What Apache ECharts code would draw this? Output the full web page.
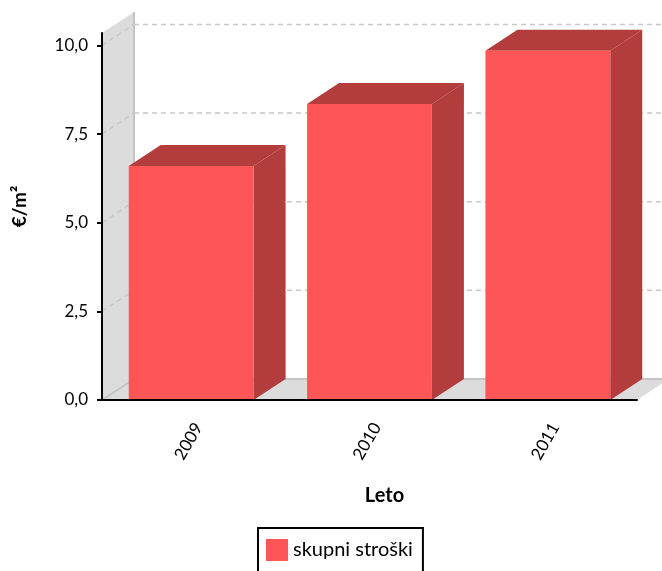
<!DOCTYPE html>
<html>
<head>
<meta charset="utf-8">
<script src="https://cdn.jsdelivr.net/npm/echarts@6/dist/echarts.min.js"></script>
<style>
  html, body { margin: 0; padding: 0; background: #fff; }
  #chart { width: 662px; height: 571px; }
</style>
</head>
<body>
<div id="chart"></div>
<script>
// Annual total costs per square metre
const years = ['2009', '2010', '2011'];
const costs = [6.6, 8.35, 9.85];
const yTicks = [0, 2.5, 5, 7.5, 10];
const seriesName = 'skupni stroški';

// Pseudo-3D depth offset and palette
const DX = 32, DY = -21;
const FRONT = '#fe5656';
const SIDE = '#b33c3c';
const WALL = '#dcdcdc';
const EDGE = '#c4c4c4';
const GRID = '#c8c8c8';
const FONT = 'Lato';

const fmt = v => v.toFixed(1).replace('.', ',');

const chart = echarts.init(document.getElementById('chart'));

chart.setOption({
  animation: false,
  textStyle: { fontFamily: FONT },
  grid: { left: 102, right: 25, top: 33, bottom: 171, containLabel: false },
  legend: {
    data: [seriesName],
    left: 258,
    top: 528,
    icon: 'rect',
    itemWidth: 22,
    itemHeight: 22,
    itemGap: 10,
    padding: [11, 10, 12, 8],
    borderColor: '#000',
    borderWidth: 2,
    borderRadius: 0,
    textStyle: { fontFamily: FONT, fontSize: 20, color: '#000' }
  },
  xAxis: {
    type: 'category',
    data: years,
    z: 10,
    name: 'Leto',
    nameLocation: 'middle',
    nameGap: 86,
    nameTextStyle: { fontFamily: FONT, fontSize: 20, fontWeight: 'bold', color: '#000', padding: [0, 0, 0, 30] },
    axisLine: { lineStyle: { color: '#000', width: 2 } },
    axisTick: { alignWithLabel: true, length: 6, lineStyle: { color: '#000', width: 2 } },
    axisLabel: { rotate: 60, fontSize: 17, color: '#000', margin: 20, verticalAlign: 'top', fontFamily: FONT },
    splitLine: { show: false }
  },
  yAxis: {
    type: 'value',
    min: 0,
    max: 10.35,
    interval: 2.5,
    z: 10,
    name: '€/m²',
    nameLocation: 'middle',
    nameGap: 73,
    nameRotate: 90,
    nameTextStyle: { fontFamily: FONT, fontSize: 19, fontWeight: 'bold', color: '#000', padding: [0, 0, 0, 20] },
    axisLine: { show: true, lineStyle: { color: '#000', width: 2 } },
    axisTick: { show: true, length: 5, customValues: yTicks, lineStyle: { color: '#000', width: 2 } },
    axisLabel: { fontSize: 17, color: '#000', margin: 14, fontFamily: FONT, customValues: yTicks, formatter: fmt },
    splitLine: { show: false }
  },
  series: [
    {
      // side wall and floor
      type: 'custom',
      silent: true,
      z: 1,
      data: [[0, 0]],
      renderItem: (params) => {
        const c = params.coordSys;
        const x0 = c.x, x1 = c.x + c.width, yT = c.y, yB = c.y + c.height;
        return {
          type: 'group',
          children: [
            { type: 'polygon', shape: { points: [[x0, yB], [x0, yT], [x0 + DX, yT + DY], [x0 + DX, yB + DY]] }, style: { fill: WALL } },
            { type: 'polygon', shape: { points: [[x0, yB], [x0 + DX, yB + DY], [x1 + DX, yB + DY], [x1, yB]] }, style: { fill: WALL } },
            { type: 'line', shape: { x1: x0 + DX, y1: yT + DY, x2: x0 + DX, y2: yB + DY }, style: { stroke: EDGE, lineWidth: 2 } },
            { type: 'line', shape: { x1: x0, y1: yB, x2: x0 + DX, y2: yB + DY }, style: { stroke: EDGE, lineWidth: 2 } },
            { type: 'line', shape: { x1: x0 + DX, y1: yB + DY, x2: x1 + DX, y2: yB + DY }, style: { stroke: EDGE, lineWidth: 2 } }
          ]
        };
      }
    },
    {
      // dashed grid lines on the back wall
      type: 'custom',
      silent: true,
      z: 2,
      data: yTicks.filter(v => v > 0).map(v => [0, v]),
      renderItem: (params, api) => {
        const c = params.coordSys;
        const y = api.coord([0, api.value(1)])[1];
        const x0 = c.x, x1 = c.x + c.width;
        const dash = { stroke: GRID, lineWidth: 1.5, lineDash: [5, 4] };
        return {
          type: 'group',
          children: [
            { type: 'line', shape: { x1: x0, y1: y, x2: x0 + DX, y2: y + DY }, style: dash },
            { type: 'line', shape: { x1: x0 + DX, y1: y + DY, x2: x1 + DX, y2: y + DY }, style: dash }
          ]
        };
      }
    },
    {
      // 3D bars
      name: seriesName,
      type: 'custom',
      z: 3,
      itemStyle: { color: FRONT },
      data: costs.map((v, i) => [i, v]),
      encode: { x: 0, y: 1 },
      renderItem: (params, api) => {
        const base = api.coord([api.value(0), 0]);
        const top = api.coord([api.value(0), api.value(1)]);
        const w = api.size([1, 0])[0] * 0.7;
        const l = base[0] - w / 2, r = base[0] + w / 2;
        const t = top[1], b = base[1];
        return {
          type: 'group',
          children: [
            { type: 'polygon', shape: { points: [[r, t], [r + DX, t + DY], [r + DX, b + DY], [r, b]] }, style: { fill: SIDE } },
            { type: 'polygon', shape: { points: [[l, t], [l + DX, t + DY], [r + DX, t + DY], [r, t]] }, style: { fill: SIDE } },
            { type: 'rect', shape: { x: l, y: t, width: w, height: b - t }, style: { fill: FRONT } }
          ]
        };
      }
    }
  ]
});
</script>
</body>
</html>
